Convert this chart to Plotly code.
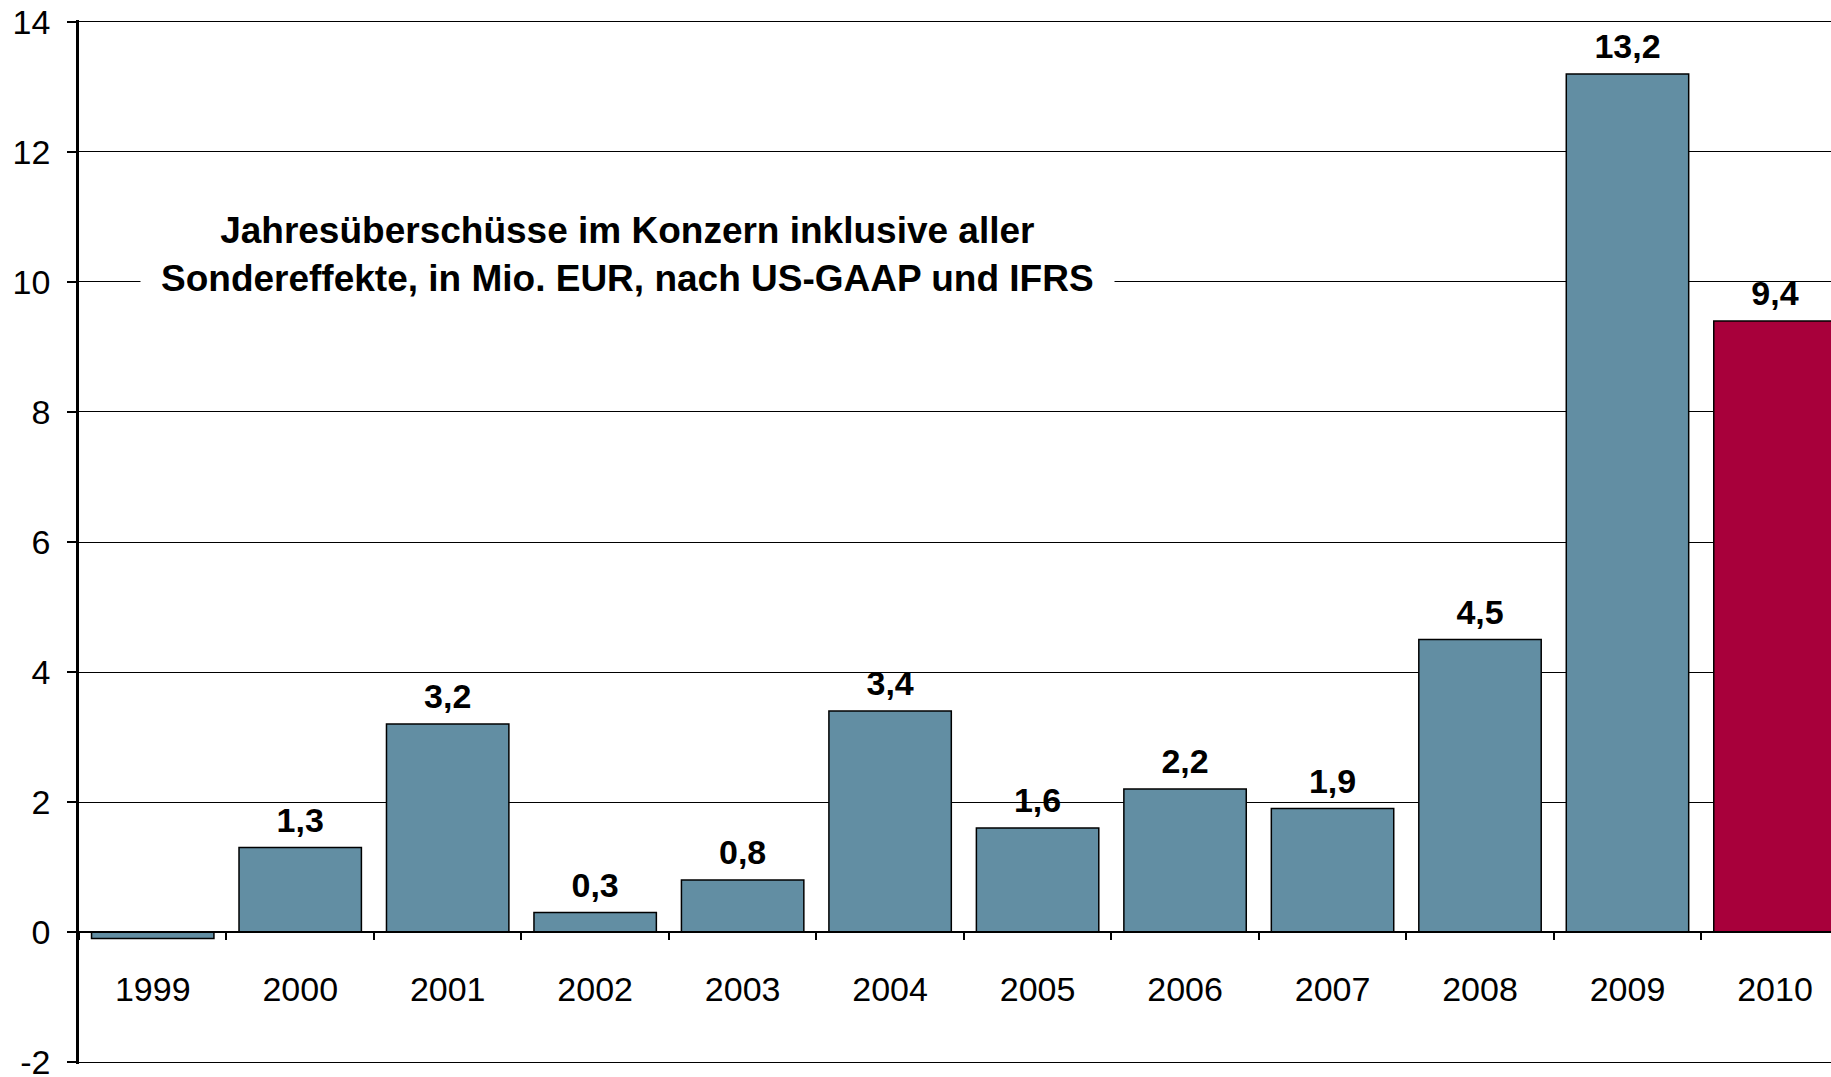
import plotly.graph_objects as go

# data
years = ["1999", "2000", "2001", "2002", "2003", "2004", "2005",
         "2006", "2007", "2008", "2009", "2010"]
profits = [-0.1, 1.3, 3.2, 0.3, 0.8, 3.4, 1.6, 2.2, 1.9, 4.5, 13.2, 9.4]
bar_colors = ["#628EA3"] * 11 + ["#A8003B"]
y_ticks = [-2, 0, 2, 4, 6, 8, 10, 12, 14]
title_lines = ["Jahresüberschüsse im Konzern inklusive aller",
               "Sondereffekte, in Mio. EUR, nach US-GAAP und IFRS"]

FONT = "Liberation Sans, Arial, sans-serif"
Y_RANGE = [-2.03, 14.03]

# labels only on the positive bars, German decimal comma
labels = [f"{v:.1f}".replace(".", ",") if v > 0 else "" for v in profits]

fig = go.Figure()
fig.add_trace(go.Bar(
    x=years, y=profits,
    width=0.83,
    marker=dict(color=bar_colors, line=dict(color="black", width=1.5)),
    hoverinfo="x+y",
))
fig.add_trace(go.Scatter(
    x=years, y=profits, mode="markers+text",
    text=labels, textposition="top center",
    marker=dict(size=10, color="rgba(0,0,0,0)"),
    textfont=dict(family=FONT, size=34, color="black", weight="bold"),
    hoverinfo="skip", cliponaxis=False,
))

fig.add_annotation(x=0.3128, y=10.42, xref="paper", yref="y",
                   xanchor="center", yanchor="middle",
                   text="<b>" + "<br>".join(title_lines) + "</b>",
                   showarrow=False, bgcolor="white", borderpad=20,
                   align="center",
                   font=dict(family=FONT, size=37, color="black"))

# x axis sits on the zero line
zero_pos = (0 - Y_RANGE[0]) / (Y_RANGE[1] - Y_RANGE[0])

fig.update_layout(
    width=1831, height=1077,
    margin=dict(l=79, r=0, t=20, b=13),
    paper_bgcolor="white", plot_bgcolor="white",
    showlegend=False,
    font=dict(family=FONT, size=34, color="black"),
    xaxis=dict(type="category", range=[-0.5, 11.38],
               anchor="free", position=zero_pos,
               showline=True, linecolor="black", linewidth=2,
               ticks="outside", tickson="boundaries", ticklen=7,
               tickcolor="black", tickwidth=1.5,
               ticklabelstandoff=27, showgrid=False, automargin=False,
               tickfont=dict(family=FONT, size=34)),
    yaxis=dict(range=Y_RANGE, tickvals=y_ticks,
               ticktext=[str(t) for t in y_ticks],
               showline=True, linecolor="black", linewidth=2.5,
               ticks="outside", ticklen=9, tickcolor="black", tickwidth=1.5,
               showgrid=True, gridcolor="black", gridwidth=1,
               zeroline=False, ticklabelstandoff=10, automargin=False,
               ticklabeloverflow="allow",
               tickfont=dict(family=FONT, size=34)),
)

# drop the page margin so the figure fills the window exactly
fig.write_html("out.html",
               config={"displayModeBar": False},
               post_script="document.body.style.margin='0';"
                           "document.body.style.overflow='hidden';")
